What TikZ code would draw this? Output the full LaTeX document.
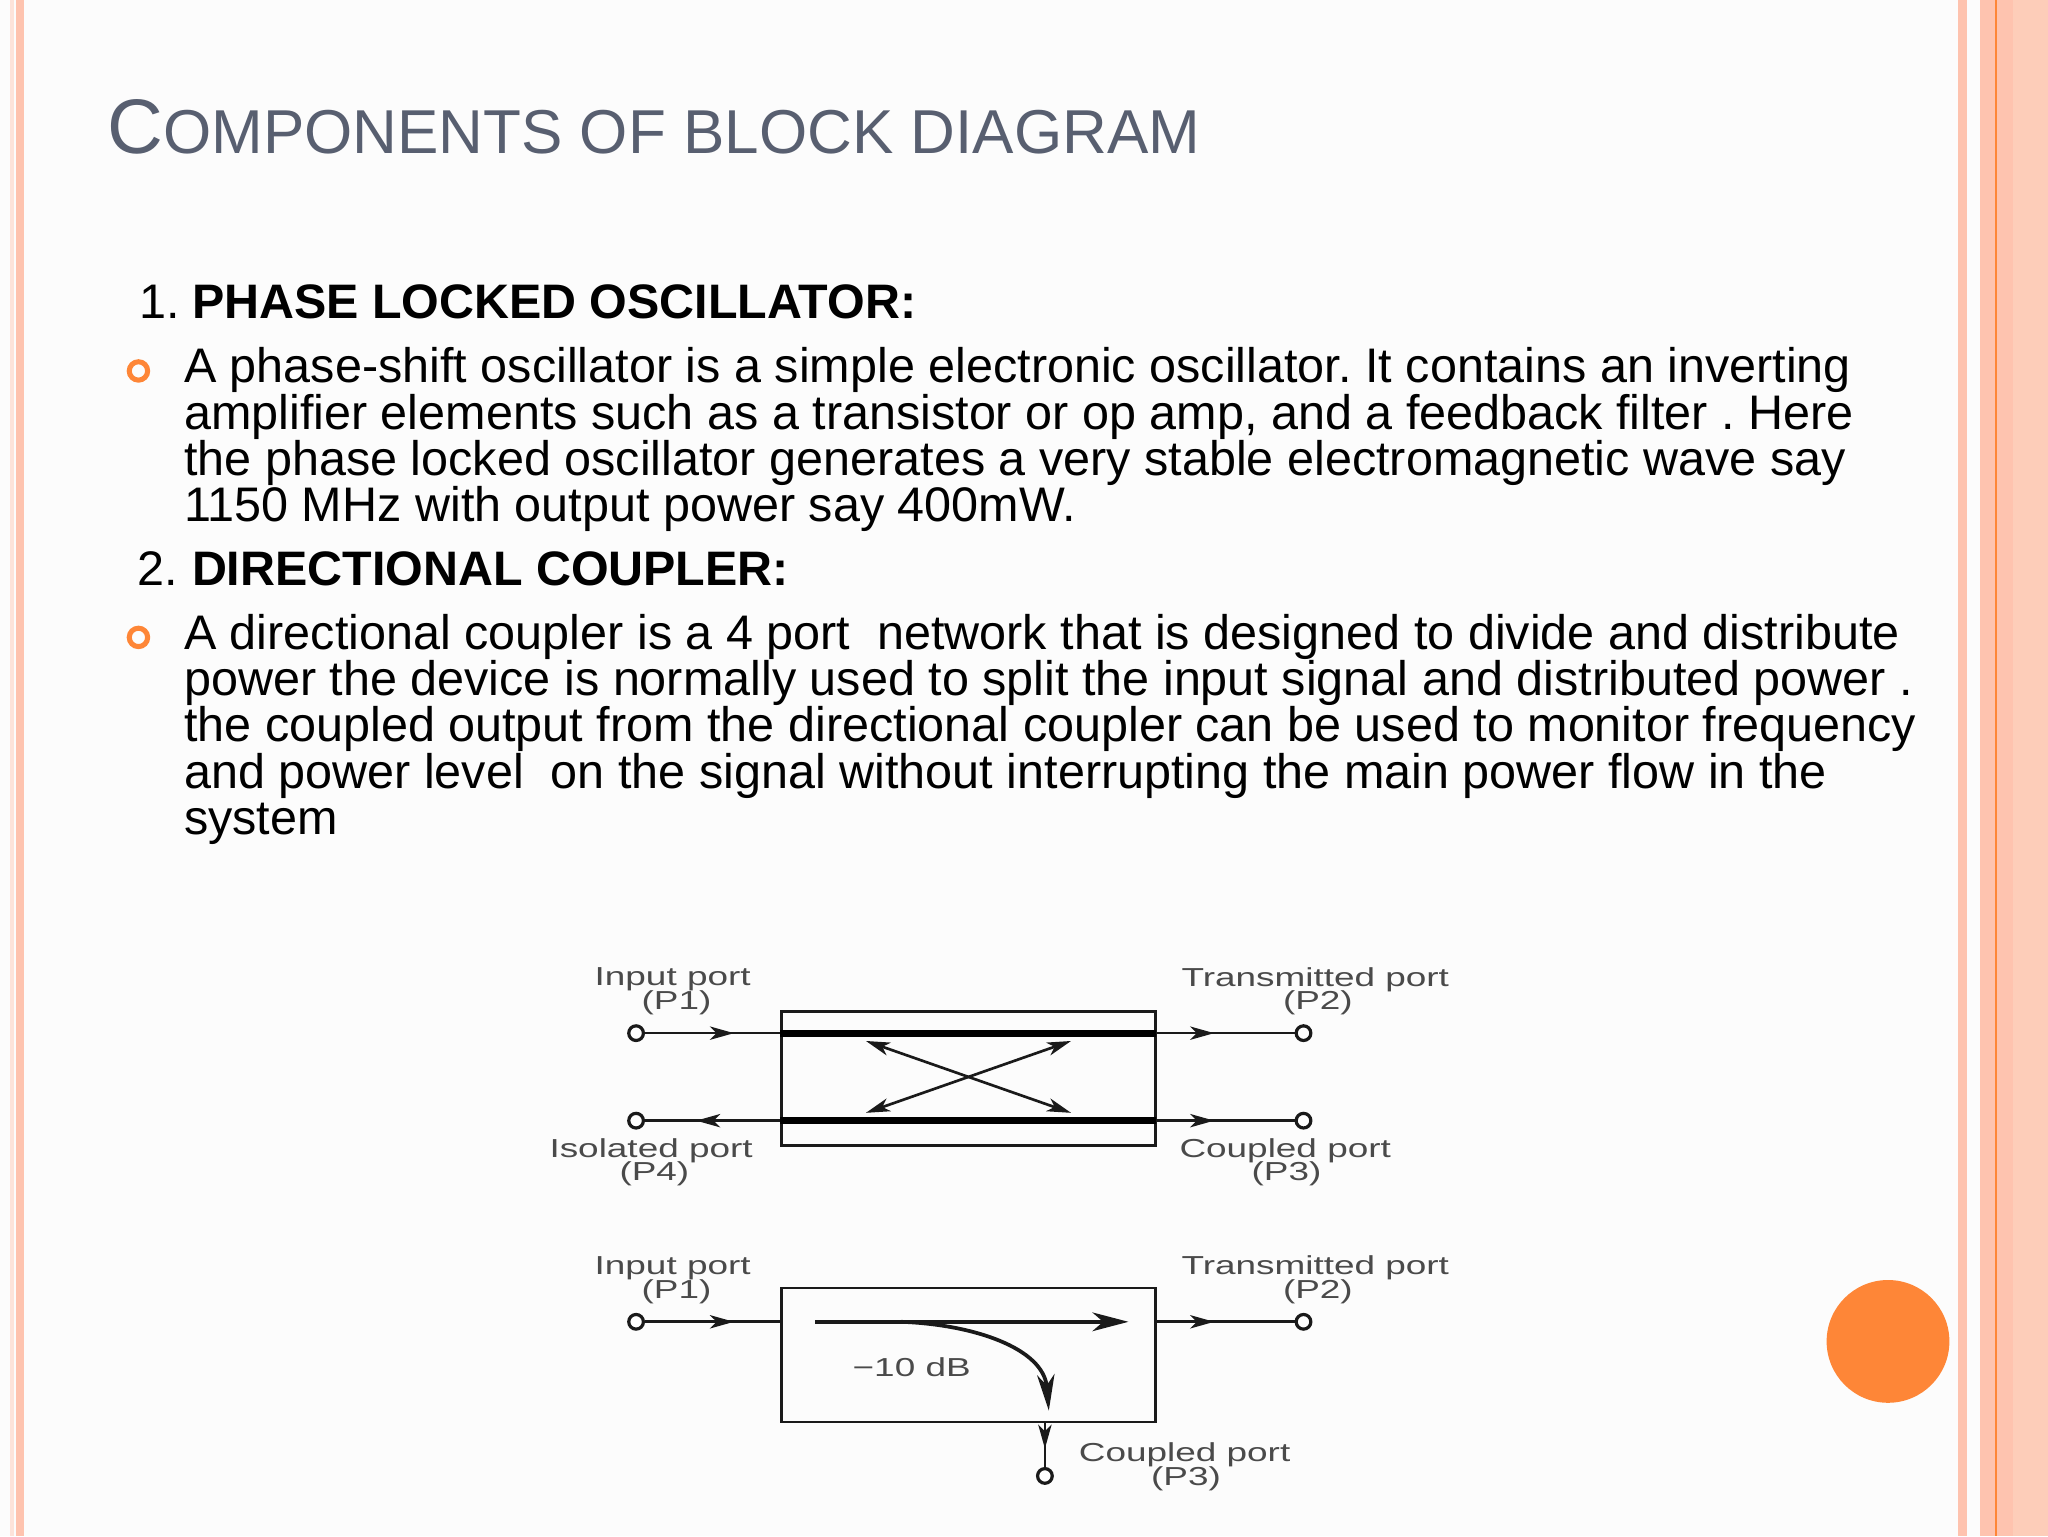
\documentclass[tikz,border=0pt]{standalone}
\usepackage{fontspec}
\usepackage{graphicx}
\setmainfont{Liberation Sans}
\usetikzlibrary{arrows.meta,decorations.markings}
\definecolor{peach}{HTML}{FEC3AF}
\definecolor{peachb}{HTML}{FDCDB9}
\definecolor{peachc}{HTML}{FDE3DA}
\definecolor{orng}{HTML}{FE8637}
\definecolor{titlec}{HTML}{585F70}
\definecolor{ink}{HTML}{1A1A1A}
\definecolor{lab}{HTML}{4A4A4A}
\newcommand{\wide}[1]{\scalebox{1.42}[1]{#1}}
\newcommand{\bigc}{\fontsize{58}{58}\selectfont}
\newcommand{\smc}{\fontsize{46.5}{47}\selectfont}
\frenchspacing
\tikzset{
  body/.style={anchor=base west,inner sep=0pt,outer sep=0pt,text=black,font=\fontsize{36.4}{36}\selectfont},
  bul/.style={circle,draw=orng,line width=3.8pt,fill=none,minimum size=13.8pt,inner sep=0pt},
  term/.style={circle,draw=ink,line width=2.4pt,fill=white,minimum size=11pt,inner sep=0pt},
  dbox/.style={draw=ink,line width=2.2pt,fill=none,inner sep=0pt,anchor=north west,minimum width=281pt,minimum height=100.5pt},
  plbl/.style={inner sep=0pt,anchor=center,text=lab,font=\fontsize{19.5}{19.5}\selectfont},
  wire/.style={draw=ink,line width=2pt},
  fwd/.style={wire,postaction={decorate},decoration={markings,mark=at position #1 with {\arrow{Stealth[length=18pt,width=10pt,inset=5pt]}}}},
  cross/.style={draw=ink,line width=2pt,{Stealth[length=18pt,width=10pt,inset=5pt]}-{Stealth[length=18pt,width=10pt,inset=5pt]}},
  heavy/.style={draw=black,line width=5.4pt},
  strong/.style={draw=ink,line width=2.8pt},
}
\begin{document}
\begin{tikzpicture}[x=.97959pt,y=-.97959pt]
\useasboundingbox (0,0) rectangle (1568,1176);
\fill[white!99!black] (0,0) rectangle (1568,1176);
% slide borders
\fill[peachc] (8,0) rectangle (10.5,1176);
\fill[peach] (12.5,0) rectangle (18.5,1176);
\fill[peach] (1499,0) rectangle (1506,1176);
\fill[peach] (1516,0) rectangle (1568,1176);
\fill[peachb] (1541,0) rectangle (1568,1176);
\fill[orng] (1527.5,0) rectangle (1529,1176);
\fill[orng] (1445.5,1027) circle (47);
% title
\node[anchor=base west,inner sep=0pt,text=titlec] (title) at (82,117.5)
  {{\bigc C}{\smc OMPONENTS OF BLOCK DIAGRAM}};
% body
\node[body] (n1) at (107,244) {1.};
\node[body,font=\fontsize{36.3}{36}\selectfont\bfseries] (h1) at (147,244) {PHASE LOCKED OSCILLATOR:};
\node[bul] (b1) at (106,284) {};
\node[body] (l1) at (141,293) {A phase-shift oscillator is a simple electronic oscillator. It contains an inverting};
\node[body] (l2) at (141,328.5) {amplifier elements such as a transistor or op amp, and a feedback filter . Here};
\node[body] (l3) at (141,364) {the phase locked oscillator generates a very stable electromagnetic wave say};
\node[body] (l4) at (141,399.5) {1150 MHz with output power say 400mW.};
\node[body] (n2) at (105,448) {2.};
\node[body,font=\fontsize{36.3}{36}\selectfont\bfseries] (h2) at (147,448) {DIRECTIONAL COUPLER:};
\node[bul] (b2) at (106,488) {};
\node[body] (m1) at (141,497) {A directional coupler is a 4 port\ \ network that is designed to divide and distribute};
\node[body] (m2) at (141,532.5) {power the device is normally used to split the input signal and distributed power .};
\node[body] (m3) at (141,568) {the coupled output from the directional coupler can be used to monitor frequency};
\node[body] (m4) at (141,603.5) {and power level\ \ on the signal without interrupting the main power flow in the};
\node[body] (m5) at (141,639) {system};
% upper coupler
\node[dbox] (box1) at (597,773) {};
\node[term] (p1) at (487,791) {};
\node[term] (p2) at (998,791) {};
\node[term] (p3) at (998,858) {};
\node[term] (p4) at (487,858) {};
\coordinate (a1) at (597,791);
\coordinate (a2) at (885,791);
\coordinate (a3) at (885,858);
\coordinate (a4) at (597,858);
\draw[fwd=.66] (p1) -- (a1);
\draw[fwd=.42] (a2) -- (p2);
\draw[fwd=.42] (a3) -- (p3);
\draw[fwd=.62] (a4) -- (p4);
\draw[heavy] (a1) -- (a2);
\draw[heavy] (a4) -- (a3);
\coordinate (c1) at (663,797);
\coordinate (c2) at (820,852);
\coordinate (c3) at (820,797);
\coordinate (c4) at (663,852);
\draw[cross] (c1) -- (c2);
\draw[cross] (c3) -- (c4);
\node[plbl] (t1a) at (515,750) {\wide{Input port}};
\node[plbl] (t1b) at (518,768) {\wide{(P1)}};
\node[plbl] (t2a) at (1007,750) {\wide{Transmitted port}};
\node[plbl] (t2b) at (1009,768) {\wide{(P2)}};
\node[plbl] (t4a) at (498.5,881) {\wide{Isolated port}};
\node[plbl] (t4b) at (501,899) {\wide{(P4)}};
\node[plbl] (t3a) at (984,881) {\wide{Coupled port}};
\node[plbl] (t3b) at (985,899) {\wide{(P3)}};
% lower coupler
\node[dbox] (box2) at (597,985) {};
\node[term] (q1) at (487,1012) {};
\node[term] (q2) at (998,1012) {};
\node[term] (q3) at (800,1130) {};
\coordinate (e1) at (597,1012);
\coordinate (e2) at (885,1012);
\coordinate (e3) at (800,1088);
\draw[fwd=.66] (q1) -- (e1);
\draw[fwd=.42] (e2) -- (q2);
\draw[fwd=.6] (e3) -- (q3);
\coordinate (f1) at (624,1012);
\coordinate (f2) at (864,1012);
\coordinate (f3) at (803,1080);
\draw[strong,-{Stealth[length=27pt,width=14pt,inset=8pt]}] (f1) -- (f2);
\draw[strong,-{Stealth[length=27pt,width=13pt,inset=8pt]}] (690,1012) .. controls (745,1014) and (799,1032) .. (f3);
\node[plbl] (d1a) at (515,971) {\wide{Input port}};
\node[plbl] (d1b) at (518,989) {\wide{(P1)}};
\node[plbl] (d2a) at (1007,971) {\wide{Transmitted port}};
\node[plbl] (d2b) at (1009,989) {\wide{(P2)}};
\node[plbl] (db) at (698,1047) {\wide{−10 dB}};
\node[plbl] (d3a) at (907,1114) {\wide{Coupled port}};
\node[plbl] (d3b) at (908,1132) {\wide{(P3)}};
\end{tikzpicture}
\end{document}
